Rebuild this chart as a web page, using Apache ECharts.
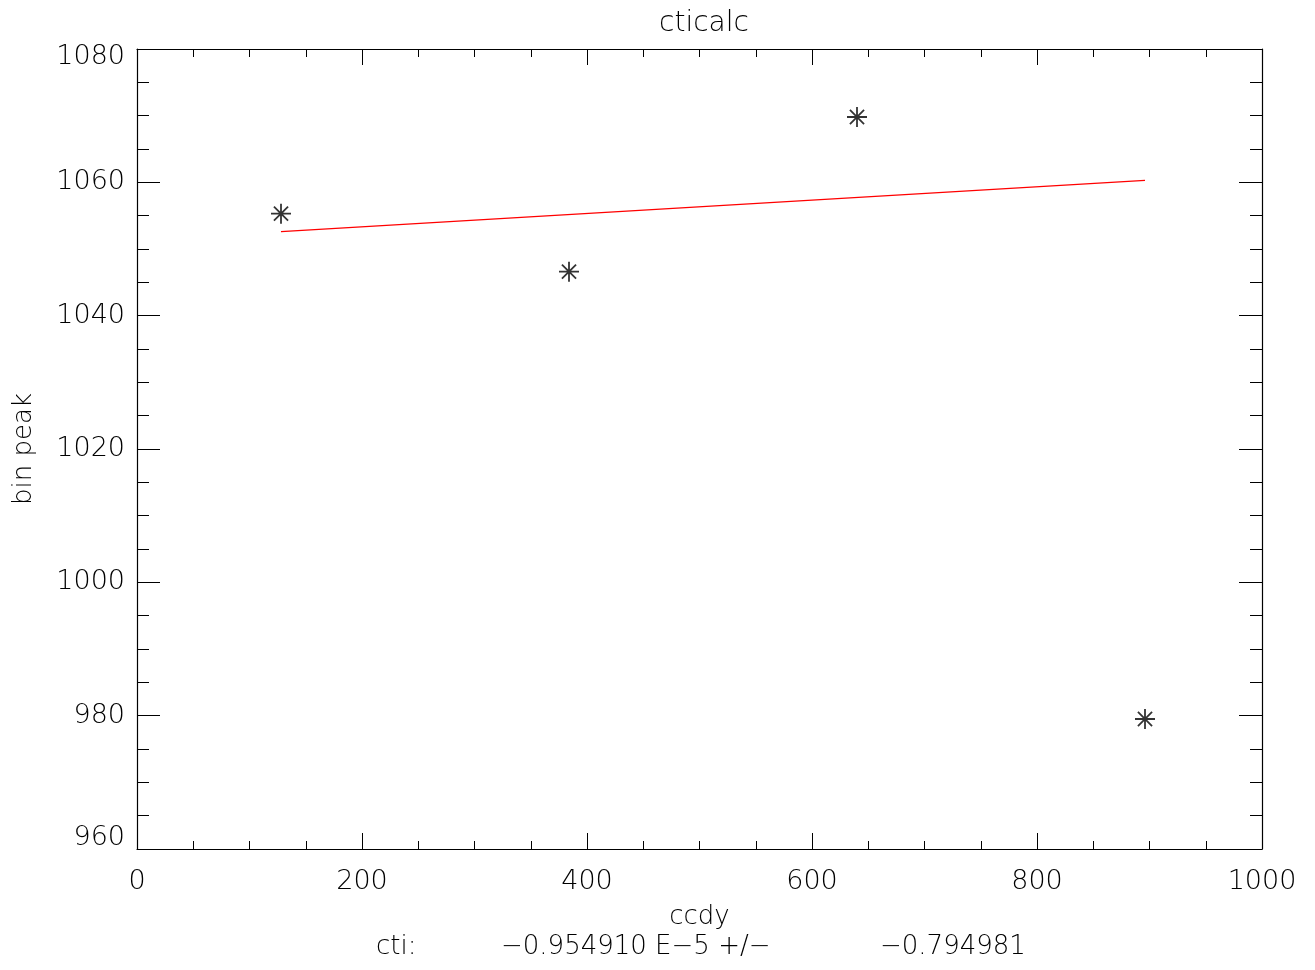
<!DOCTYPE html>
<html>
<head>
<meta charset="utf-8">
<script src="https://cdn.jsdelivr.net/npm/echarts@6/dist/echarts.min.js"></script>
<style>html,body{margin:0;padding:0;background:#fff}#c{width:1315px;height:970px}</style>
</head>
<body>
<div id="c"></div>
<script>
const ccdy = [128, 384, 640, 896];
const binPeak = [1055.3, 1046.6, 1069.8, 979.5];
const fitX = [128, 896];
const fitY = [1052.6, 1060.3];
const titleText = 'cticalc';
const xName = 'ccdy';
const yName = 'bin peak';
const ctiLabel = 'cti:';
const ctiValue = '\u22120.954910 E\u22125 +/\u2212';
const ctiErr = '\u22120.794981';

const FONT = 'DejaVu Sans';
const TXT = '#000';
const FW = 'lighter';
const chart = echarts.init(document.getElementById('c'));
const star = 'path://M0,-10L0,10M-10,0L10,0M-7.07,-7.07L7.07,7.07M-7.07,7.07L7.07,-7.07';
const lblStyle = {fontFamily: FONT, fontSize: 27, color: TXT, fontWeight: FW};

function mkX(pos, show) {
  return {
    type: 'value', position: pos, min: 0, max: 1000, interval: 200,
    axisLine: {show: true, onZero: false, lineStyle: {color: '#000', width: 1.2}},
    axisTick: {show: true, inside: true, length: 16, lineStyle: {color: '#000', width: 1}},
    minorTick: {show: true, splitNumber: 4, length: 8, lineStyle: {color: '#000', width: 1}},
    splitLine: {show: false},
    axisLabel: Object.assign({show: show, margin: 19, formatter: v => String(v)}, lblStyle),
    name: show ? xName : '', nameLocation: 'middle', nameGap: 55,
    nameTextStyle: {fontFamily: FONT, fontSize: 26, color: TXT, fontWeight: FW}
  };
}
function mkY(pos, show) {
  return {
    type: 'value', position: pos, min: 960, max: 1080, interval: 20,
    axisLine: {show: true, onZero: false, lineStyle: {color: '#000', width: 1.2}},
    axisTick: {show: true, inside: true, length: 23, lineStyle: {color: '#000', width: 1}},
    minorTick: {show: true, splitNumber: 4, length: 12, lineStyle: {color: '#000', width: 1}},
    splitLine: {show: false},
    axisLabel: Object.assign({show: show, margin: 12,
      formatter: v => v === 1080 ? '{top|' + v + '}' : (v === 960 ? '{bot|' + v + '}' : String(v)),
      rich: {
        top: Object.assign({padding: [16, 0, 0, 0]}, lblStyle),
        bot: Object.assign({padding: [0, 0, 22, 0]}, lblStyle)
      }}, lblStyle),
    name: show ? yName : '', nameLocation: 'middle', nameGap: 100, nameRotate: 90,
    nameTextStyle: {fontFamily: FONT, fontSize: 26, color: TXT, fontWeight: FW}
  };
}

chart.setOption({
  animation: false,
  backgroundColor: '#fff',
  title: [
    {text: titleText, left: 699, top: 5, textAlign: 'center',
     textStyle: {fontFamily: FONT, fontSize: 28, fontWeight: FW, color: TXT}},
    {text: ctiLabel, left: 371, top: 929,
     textStyle: {fontFamily: FONT, fontSize: 26, fontWeight: FW, color: TXT}},
    {text: ctiValue, left: 496, top: 929,
     textStyle: {fontFamily: FONT, fontSize: 26, fontWeight: FW, color: TXT}},
    {text: ctiErr, left: 875, top: 929,
     textStyle: {fontFamily: FONT, fontSize: 26, fontWeight: FW, color: TXT}}
  ],
  grid: {left: 137, right: 53, top: 49, bottom: 121, containLabel: false},
  xAxis: [mkX('bottom', true), mkX('top', false)],
  yAxis: [mkY('left', true), mkY('right', false)],
  series: [
    {type: 'line', xAxisIndex: 0, yAxisIndex: 0,
     data: fitX.map((x, i) => [x, fitY[i]]),
     showSymbol: false, symbol: 'none',
     lineStyle: {color: '#ff0000', width: 1.3}},
    {type: 'scatter', xAxisIndex: 0, yAxisIndex: 0,
     data: ccdy.map((x, i) => [x, binPeak[i]]),
     symbol: star, symbolSize: 20,
     itemStyle: {color: 'none', borderColor: '#000', borderWidth: 1.8}}
  ]
});
</script>
</body>
</html>
